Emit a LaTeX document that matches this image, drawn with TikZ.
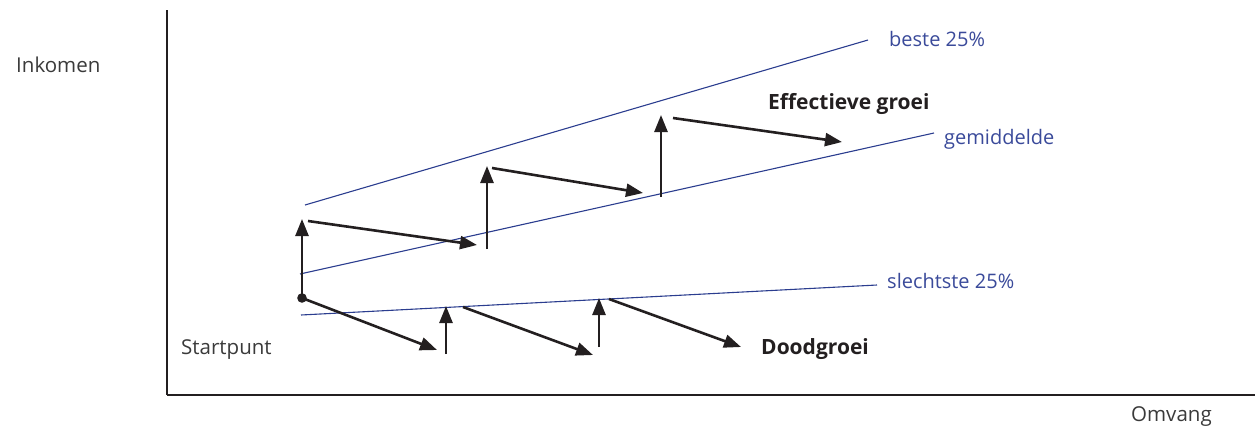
\documentclass[tikz,border=0pt]{standalone}
\usepackage{fontspec}
\setmainfont{Open Sans}
\usetikzlibrary{arrows.meta}
\definecolor{ink}{HTML}{231F20}
\definecolor{txt}{HTML}{3A3A3A}
\definecolor{bl}{HTML}{2B3D8F}
\definecolor{bltxt}{HTML}{3A4A9A}
\tikzset{
  axisline/.style={draw=ink},
  band/.style={draw=bl, line width=1.1pt},
  growarrow/.style={draw=ink, line width=2.6pt, -{Triangle[length=17pt,width=13pt]}},
  lbl/.style={text=txt, font=\fontsize{20.5}{24}\selectfont, inner sep=0pt, anchor=base west},
  blbl/.style={text=bltxt, font=\fontsize{20}{24}\selectfont, inner sep=0pt, anchor=base west},
  boldlbl/.style={text=ink, font=\fontsize{21}{25}\selectfont\bfseries, inner sep=0pt, anchor=base west},
}
\begin{document}
\begin{tikzpicture}[x=1pt,y=-1pt]
\useasboundingbox (0,0) rectangle (1255,429);
% axes
\coordinate (yt) at (167,10);
\coordinate (o) at (167,395);
\coordinate (xe) at (1255,395);
\draw[axisline, line width=1.3pt] (yt) -- (o);
\draw[axisline, line width=2.6pt] (o) -- (xe);
% blue bands
\coordinate (b1) at (305,205); \coordinate (b2) at (868,40);
\coordinate (g1) at (300,274); \coordinate (g2) at (934,133);
\coordinate (s1) at (301,315); \coordinate (s2) at (877,285);
\draw[band] (b1) -- (b2);
\draw[band] (g1) -- (g2);
\draw[band] (s1) -- (s2);
\node[blbl] (beste) at (889,46) {beste 25\%};
\node[blbl] (gem) at (944,144) {gemiddelde};
\node[blbl] (slecht) at (887,288) {slechtste 25\%};
% start point
\coordinate (st) at (302,298);
\fill[ink] (st) circle (4.8pt);
% effective growth
\coordinate (e1) at (302,219);
\coordinate (e2s) at (308,221); \coordinate (e2) at (477,245);
\coordinate (e3b) at (487,249); \coordinate (e3) at (487,166);
\coordinate (e4s) at (492,168); \coordinate (e4) at (643,193);
\coordinate (e5b) at (661,197); \coordinate (e5) at (661,115);
\coordinate (e6s) at (673,118); \coordinate (e6) at (842,142);
\draw[growarrow] (st) -- (e1);
\draw[growarrow] (e2s) -- (e2);
\draw[growarrow] (e3b) -- (e3);
\draw[growarrow] (e4s) -- (e4);
\draw[growarrow] (e5b) -- (e5);
\draw[growarrow] (e6s) -- (e6);
% dead growth
\coordinate (d1) at (437,350);
\coordinate (d2b) at (446,354); \coordinate (d2) at (446,306);
\coordinate (d3s) at (463,307); \coordinate (d3) at (593,355);
\coordinate (d4b) at (599,347); \coordinate (d4) at (599,298);
\coordinate (d5s) at (609,299); \coordinate (d5) at (741,347);
\draw[growarrow] (st) -- (d1);
\draw[growarrow] (d2b) -- (d2);
\draw[growarrow] (d3s) -- (d3);
\draw[growarrow] (d4b) -- (d4);
\draw[growarrow] (d5s) -- (d5);
% labels
\node[lbl] (ink) at (16,72) {Inkomen};
\node[lbl] (sp) at (181,354) {Startpunt};
\node[lbl] (om) at (1131,421) {Omvang};
\node[boldlbl] (eg) at (768,109) {Effectieve groei};
\node[boldlbl] (dg) at (761,354) {Doodgroei};
\end{tikzpicture}
\end{document}
